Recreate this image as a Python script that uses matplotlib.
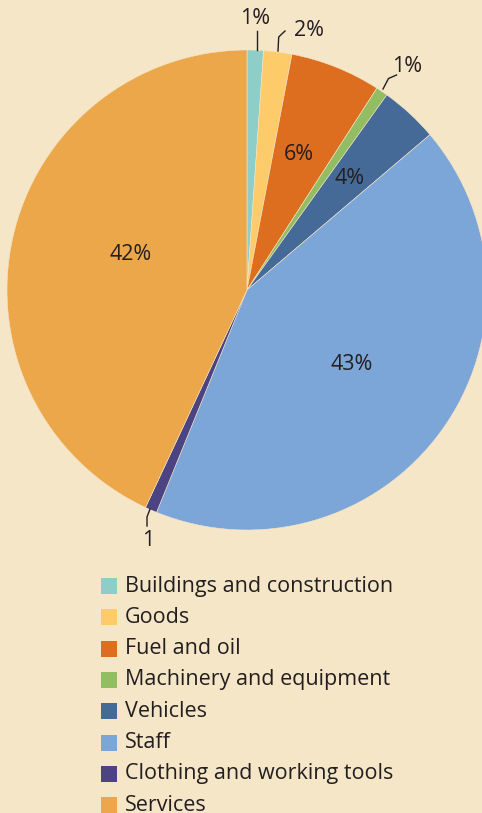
import matplotlib
matplotlib.use("Agg")
import matplotlib.pyplot as plt
from matplotlib.patches import Rectangle

categories = ["Buildings and construction", "Goods", "Fuel and oil",
              "Machinery and equipment", "Vehicles", "Staff",
              "Clothing and working tools", "Services"]
values = [1.1, 1.9, 6.1, 0.8, 3.9, 42.35, 0.8, 43.05]
labels = ["1%", "2%", "6%", "1%", "4%", "43%", "1", "42%"]
colors = ["#8ECDC8", "#FDCB6A", "#DE6E1F", "#93BD62", "#456A97",
          "#7DA6D8", "#4B4382", "#ECA74A"]

BG = "#F5E6C8"
TXT = "#231F20"
plt.rcParams['font.family'] = ['Open Sans', 'DejaVu Sans']

W, H = 482, 813
fig = plt.figure(figsize=(W / 100, H / 100), dpi=100, facecolor=BG)

cx, cy, R = 247, 290, 240
ax = fig.add_axes([(cx - R) / W, (H - cy - R) / H, 2 * R / W, 2 * R / H])
ax.set_facecolor(BG)
ax.pie(values, colors=colors, startangle=90, counterclock=False, radius=1,
       wedgeprops=dict(edgecolor=BG, linewidth=0.4))
ax.set_xlim(-1, 1)
ax.set_ylim(-1, 1)
ax.set_aspect('equal')
ax.axis('off')


def d(px, py):
    return ((px - cx) / R, (cy - py) / R)


# label positions (pixel) and leader lines
label_pos = [(255, 18), (309, 30), (299, 155), (407, 66), (350, 178),
             (352, 365), (148, 540), (131, 255)]
leaders = {
    0: [(257, 50), (257, 31)],
    1: [(278, 51), (278.7, 37), (285, 31)],
    3: [(383, 89), (388.5, 78.5), (396.5, 75)],
    6: [(150, 509), (147, 517), (147, 526)],
}
for i, lab in enumerate(labels):
    x, y = d(*label_pos[i])
    ax.text(x, y, lab, ha='center', va='center', fontsize=15.5, color=TXT)
    if i in leaders:
        pts = [d(*p) for p in leaders[i]]
        ax.plot([p[0] for p in pts], [p[1] for p in pts], color=TXT,
                lw=1.0, clip_on=False)

# legend
sq = 16
y0 = 586
step = 31.3
for i, (cat, col) in enumerate(zip(categories, colors)):
    yc = y0 + i * step
    fig.patches.append(Rectangle((101 / W, (H - yc - sq / 2) / H), sq / W, sq / H,
                                 transform=fig.transFigure, facecolor=col,
                                 edgecolor='none'))
    fig.text(125 / W, (H - yc) / H, cat, ha='left', va='center',
             fontsize=15.5, color=TXT)

fig.savefig("out.png", dpi=100, facecolor=BG)
